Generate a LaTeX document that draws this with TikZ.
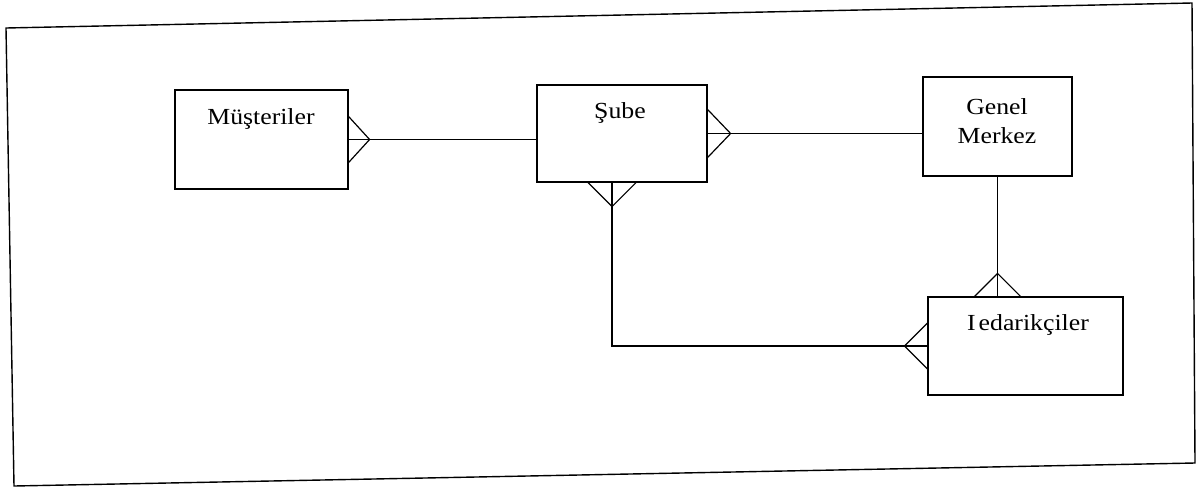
\documentclass[tikz,border=0pt]{standalone}
\usepackage{fontspec}
\newfontfamily\tfont[FakeStretch=1.12]{Liberation Serif}
\usetikzlibrary{calc}
\tikzset{
  ent/.style={draw, line width=1.2pt, rectangle, inner sep=0pt},
  lbl/.style={font=\tfont\fontsize{23}{29}\selectfont, inner sep=0pt, align=center},
  conn/.style={line width=1.2pt},
  frame/.style={line width=1.4pt}
}
\begin{document}
\begin{tikzpicture}[x=1pt,y=-1pt]
\useasboundingbox (0,0) rectangle (1196,488);
% outer frame
\draw[frame] (6,28) -- (1192,3) -- (1195,463) -- (14,486) -- cycle;
% entities
\node[ent, minimum width=173pt, minimum height=99pt] (must) at (261.5,139.5) {};
\node[ent, minimum width=170pt, minimum height=97pt] (sube) at (622,133.5) {};
\node[ent, minimum width=149pt, minimum height=99pt] (genel) at (997.5,126.5) {};
\node[ent, minimum width=195pt, minimum height=98pt] (ied) at (1025.5,346) {};
% labels
\node[lbl] (mustt) at (261,119) {Müşteriler};
\node[lbl] (subet) at (620,113) {Şube};
\node[lbl] (genelt) at (997,121.5) {Genel\\Merkez};
\node[lbl] (iedt) at (1028,325) {I\kern3pt edarikçiler};
% Müşteriler -- Şube (crow's foot at Müşteriler)
\draw[conn] (must.east) ++(0,-23) -- ++(21,23) -- ++(-21,23);
\draw[conn] (must.east) -- ++(21,0) coordinate (mtip) -- (mtip -| sube.west);
% Şube -- Genel Merkez (crow's foot at Şube)
\draw[conn] (sube.east) ++(0,-24) -- ++(23,24) -- ++(-23,24);
\draw[conn] (sube.east) -- ++(23,0) coordinate (stip) -- (stip -| genel.west);
% Şube bottom -- Iedarikçiler (crow's feet at both)
\coordinate (sb) at ([xshift=-10pt]sube.south);
\draw[conn] (sb) ++(-24,0) -- ++(24,24) -- ++(24,-24);
\draw[conn] (sb) -- ++(0,24) coordinate (sbtip);
\draw[conn] (ied.west) ++(0,-23) -- ++(-23,23) -- ++(23,23);
\draw[conn] (ied.west) -- ++(-23,0) coordinate (itip);
\draw[conn] (sbtip) |- (itip);
% Genel Merkez -- Iedarikçiler (crow's foot at Iedarikçiler)
\coordinate (it) at (genel.south |- ied.north);
\draw[conn] (it) ++(-23,0) -- ++(23,-23) -- ++(23,23);
\draw[conn] (genel.south) -- (it);
\end{tikzpicture}
\end{document}
